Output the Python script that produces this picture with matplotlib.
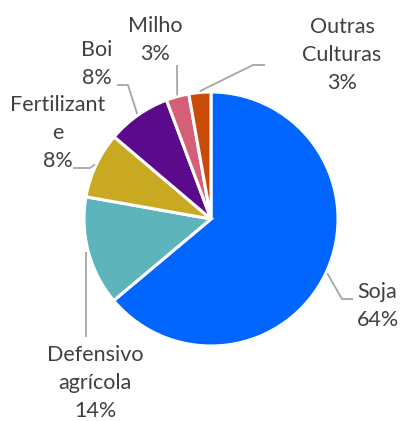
import numpy as np
import matplotlib
matplotlib.use("Agg")
import matplotlib.pyplot as plt

categories = ["Soja", "Defensivo agrícola", "Fertilizante", "Boi", "Milho", "Outras Culturas"]
display_names = ["Soja", "Defensivo\nagrícola", "Fertilizant\ne", "Boi", "Milho", "Outras\nCulturas"]
values = [63.9, 13.9, 8.4, 8.1, 2.9, 2.8]
colors = ["#0066FF", "#5DB5BB", "#C9A922", "#5B0A8C", "#D65F78", "#C84B0A"]

plt.rcParams['font.family'] = ['Lato', 'DejaVu Sans']

W, H = 401, 421
fig = plt.figure(figsize=(W / 100, H / 100), dpi=100)
ax = fig.add_axes([0, 0, 1, 1])

wedges, _ = ax.pie(values, colors=colors, startangle=90, counterclock=False,
                   radius=1.0, wedgeprops=dict(edgecolor="white", linewidth=2.2))

# axes limits so that the pie centre sits at (211, 219) px with radius 127 px
cx, cy, r = 211, 219, 127
ax.set_xlim(-cx / r, (W - cx) / r)
ax.set_ylim(-(H - cy) / r, cy / r)
ax.set_aspect('auto')
ax.axis('off')

def px(x, y):
    return ((x - cx) / r, (cy - y) / r)

# label layout: text position (px), alignment, leader elbow points (px)
layout = [
    dict(pos=(357, 306), ha='left', elbows=[(342, 299), (353, 299)]),
    dict(pos=(95, 383), ha='center', elbows=[(86, 252), (86, 337)]),
    dict(pos=(58, 133), ha='center', elbows=[(90, 168), (73, 168)]),
    dict(pos=(97, 64), ha='center', elbows=[(128, 85), (117, 85)]),
    dict(pos=(155, 40), ha='center', elbows=[(177, 65)]),
    dict(pos=(342, 55), ha='center', elbows=[(253, 65), (265, 65)]),
]

total = sum(values)
for w, name, v, lay in zip(wedges, display_names, values, layout):
    mid = np.deg2rad((w.theta1 + w.theta2) / 2)
    ax_ = np.cos(mid) * 1.01
    ay_ = np.sin(mid) * 1.01
    pts = [(ax_, ay_)] + [px(*p) for p in lay['elbows']]
    if lay is layout[1]:
        pts = [px(*p) for p in lay['elbows']]
        pts[0] = (pts[0][0], ay_)
    xs, ys = zip(*pts)
    ax.plot(xs, ys, color="#A6A6A6", linewidth=1.3, solid_capstyle='butt')
    tx, ty = px(*lay['pos'])
    ax.text(tx, ty, f"{name}\n{v / total * 100:.0f}%", ha=lay['ha'], va='center',
            multialignment=lay['ha'], fontsize=15.5, color="#404040", linespacing=1.5)

fig.savefig("out.png", dpi=100)
